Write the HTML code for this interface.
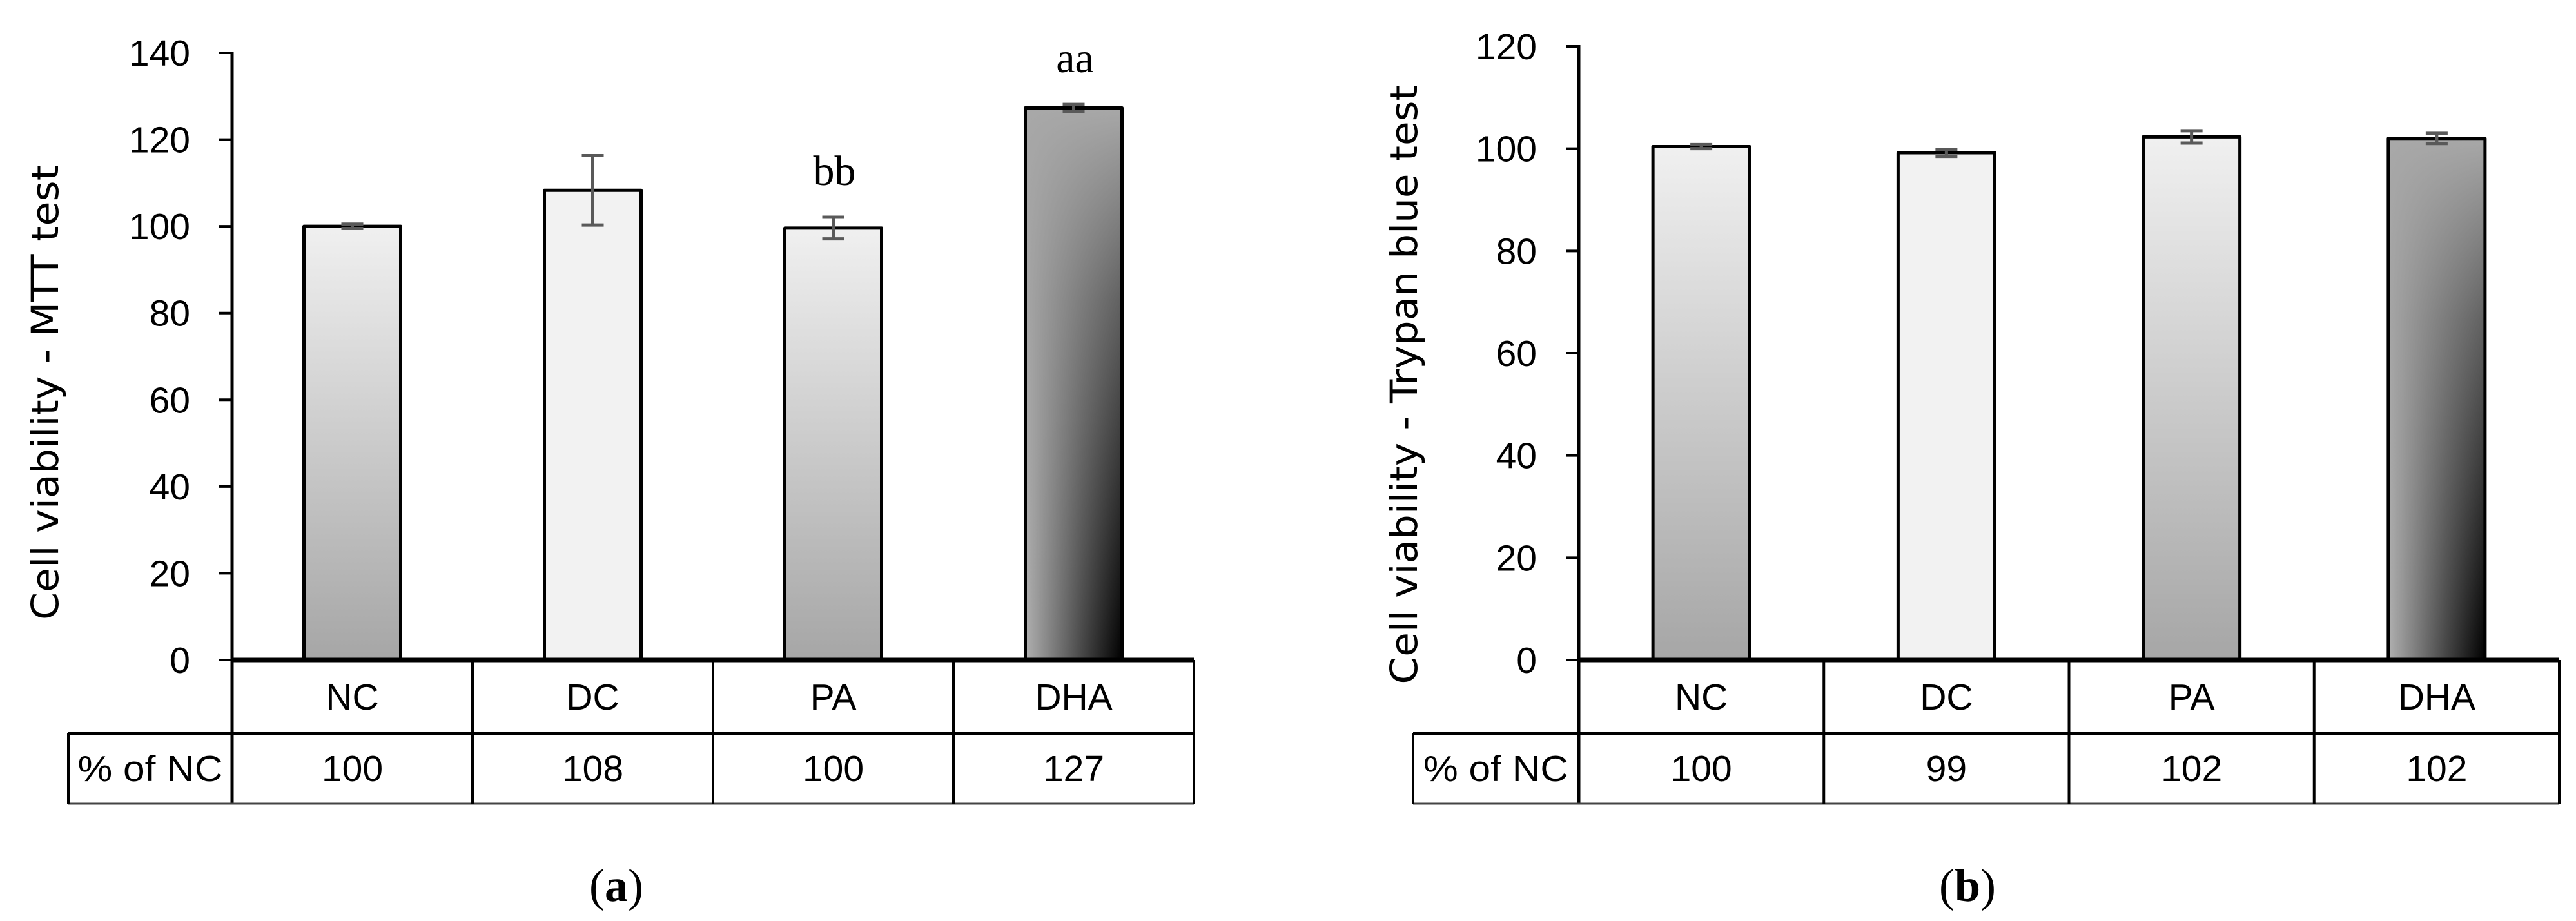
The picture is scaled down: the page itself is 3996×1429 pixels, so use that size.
<!DOCTYPE html>
<html><head><meta charset="utf-8"><style>
html,body{margin:0;padding:0;background:#fff;}
svg{display:block;}
text{font-family:"Liberation Sans",sans-serif;fill:#000;}
</style></head><body>
<svg id="fig" width="3996" height="1429" viewBox="0 0 3996 1429" xmlns="http://www.w3.org/2000/svg">
<defs>
<linearGradient id="gNC" x1="0" y1="0" x2="0" y2="1"><stop offset="0" stop-color="#f0f0f0"/><stop offset="1" stop-color="#a6a6a6"/></linearGradient>
<linearGradient id="gDHAh" x1="0" y1="0" x2="1" y2="0"><stop offset="0" stop-color="#b0b0b0"/><stop offset="0.6" stop-color="#444"/><stop offset="1" stop-color="#000"/></linearGradient>
<linearGradient id="gDHAv" x1="0" y1="0" x2="0" y2="1"><stop offset="0" stop-color="#a8a8a8" stop-opacity="1"/><stop offset="0.35" stop-color="#a0a0a0" stop-opacity="0.6"/><stop offset="1" stop-color="#a0a0a0" stop-opacity="0"/></linearGradient>
</defs>
</svg>
<script>
// ---- Chart (a) data ----
const categoriesA = ["NC","DC","PA","DHA"];
const valuesA = [100, 108.3, 99.6, 127.3];
const errorsA = [0.5, 8, 2.5, 0.8];
const pctA = ["100","108","100","127"];
const annotA = ["", "", "bb", "aa"];
const ticksA = [0,20,40,60,80,100,120,140];
// ---- Chart (b) data ----
const categoriesB = ["NC","DC","PA","DHA"];
const valuesB = [100.4, 99.2, 102.3, 102.0];
const errorsB = [0.4, 0.7, 1.2, 1.0];
const pctB = ["100","99","102","102"];
const annotB = ["", "", "", ""];
const ticksB = [0,20,40,60,80,100,120];

const svg = document.getElementById('fig');
const NS = 'http://www.w3.org/2000/svg';
function mk(tag, attrs, parent){
  const e = document.createElementNS(NS, tag);
  for (const k in attrs) e.setAttribute(k, attrs[k]);
  (parent||svg).appendChild(e);
  return e;
}
const fills = ["url(#gNC)", "#f2f2f2", "url(#gNC)", "DHA"];

function chart(cfg){
  const g = mk('g', {});
  
  
  const y0 = 1024, yTop = cfg.yTop, max = cfg.ticks[cfg.ticks.length-1];
  const yScale = v => y0 - (v/max)*(y0 - yTop);
  const ax = cfg.axisX, right = cfg.right, colW = (right-ax)/cfg.cats.length;
  const xCenter = i => ax + colW*(i+0.5);
  // ticks
  cfg.ticks.forEach(t => {
    const y = yScale(t);
    const tl = mk('line', {x1: ax-20, x2: ax, y1: y, y2: y, stroke:'#000', 'stroke-width':4}, g);
    
    
    const tx = mk('text', {x: ax-65, y: y+20, 'text-anchor':'end', 'font-size':57}, g);
    tx.textContent = t;
    
    
  });
  // axis line
  const al = mk('line', {x1: ax, x2: ax, y1: yTop-2, y2: 1248, stroke:'#000', 'stroke-width':5}, g);
  
  
  // y title
  const yt = mk('text', {x:0, y:0, transform:`translate(${cfg.titleX},${cfg.titleY}) rotate(-90)`, 'text-anchor':'middle', 'font-size':58, textLength: cfg.titleLen, lengthAdjust:'spacingAndGlyphs', style:'font-family:"DejaVu Sans",sans-serif'}, g);
  yt.textContent = cfg.title;
  
  
  // bars
  const bw = 150;
  cfg.vals.forEach((v, i) => {
    const cx = xCenter(i), y = yScale(v), x = cx - bw/2;
    if (fills[i] === 'DHA') {
      const b1 = mk('rect', {x, y, width: bw, height: y0-y, fill:'url(#gDHAh)'}, g);
      
      
      mk('rect', {x, y, width: bw, height: y0-y, fill:'url(#gDHAv)'}, g);
    } else {
      const b1 = mk('rect', {x, y, width: bw, height: y0-y, fill: fills[i]}, g);
      
      
    }
    mk('path', {d:`M${x},${y0} V${y} H${x+bw} V${y0}`, fill:'none', stroke:'#000', 'stroke-width':5, 'stroke-linejoin':'round'}, g);
    // error bar
    const e = cfg.errs[i], yh = yScale(v+e), yl = yScale(v-e);
    const eb = mk('path', {d:`M${cx},${yh} V${yl} M${cx-17},${yh} H${cx+17} M${cx-17},${yl} H${cx+17}`, stroke:'#595959', 'stroke-width':5, fill:'none'}, g);
    
    
    if (cfg.annot[i]) {
      const an = mk('text', {x: cx+2, y: yh-50, 'text-anchor':'middle', 'font-size':66, style:'font-family:"Liberation Serif",serif'}, g);
      an.textContent = cfg.annot[i];
      
      
    }
  });
  // table
  const tMid = 1138, tBot = 1247, lx = cfg.leftX;
  mk('line', {x1: ax, x2: right, y1: y0, y2: y0, stroke:'#000', 'stroke-width':7}, g);
  mk('line', {x1: lx, x2: right, y1: tMid, y2: tMid, stroke:'#000', 'stroke-width':5}, g);
  mk('line', {x1: lx, x2: right, y1: tBot, y2: tBot, stroke:'#444', 'stroke-width':3}, g);
  mk('line', {x1: lx, x2: lx, y1: tMid, y2: tBot, stroke:'#000', 'stroke-width':4}, g);
  for (let i = 1; i <= cfg.cats.length; i++) {
    const x = ax + colW*i;
    mk('line', {x1: x, x2: x, y1: y0, y2: tBot, stroke:'#000', 'stroke-width':4}, g);
  }
  cfg.cats.forEach((c, i) => {
    const t1 = mk('text', {x: xCenter(i), y: 1101, 'text-anchor':'middle', 'font-size':57}, g);
    t1.textContent = c;
    
    
    const t2 = mk('text', {x: xCenter(i), y: 1212, 'text-anchor':'middle', 'font-size':57}, g);
    t2.textContent = cfg.pct[i];
    
    
  });
  const rl = mk('text', {x: (lx+ax)/2, y: 1212, 'text-anchor':'middle', 'font-size':57, textLength: 225, lengthAdjust:'spacingAndGlyphs'}, g);
  rl.textContent = '% of NC';
  
  
  // panel label
  const pl = mk('text', {x: cfg.panelX, y: 1398, 'text-anchor':'middle', 'font-size':72, style:'font-family:"Liberation Serif",serif'}, g);
  pl.innerHTML = '(<tspan font-weight="bold">' + cfg.panel + '</tspan>)';
  
  
}

chart({name:'chart-a-mtt', cats: categoriesA, vals: valuesA, errs: errorsA, pct: pctA, annot: annotA, ticks: ticksA,
  yTop: 82, axisX: 360, right: 1852, leftX: 106, title:'Cell viability - MTT test', titleX: 90, titleY: 609, titleLen: 706, panelX: 956, panel:'a'});
chart({name:'chart-b-trypan', cats: categoriesB, vals: valuesB, errs: errorsB, pct: pctB, annot: annotB, ticks: ticksB,
  yTop: 72, axisX: 2449, right: 3970, leftX: 2192, title:'Cell viability - Trypan blue test', titleX: 2198, titleY: 597, titleLen: 929, panelX: 3052, panel:'b'});
</script>
</body></html>
